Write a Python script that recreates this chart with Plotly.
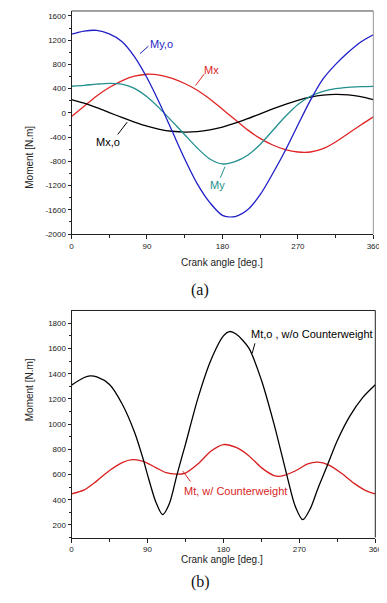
import plotly.graph_objects as go

# ---------------- data (a) ----------------
angle_a = [0, 15, 30, 45, 60, 75, 90, 105, 120, 135, 150, 165, 180, 195, 210,
           225, 240, 255, 270, 285, 300, 315, 330, 345, 360]
my_o = [1300, 1350, 1362, 1305, 1180, 930, 580, 160, -300, -760, -1170, -1480, -1690,
        -1710, -1600, -1350, -1000, -620, -200, 210, 560, 800, 1000, 1170, 1290]
mx = [-60, 110, 280, 420, 530, 605, 638, 625, 570, 485, 375, 230, 60, -110, -280,
      -420, -530, -605, -645, -645, -590, -480, -340, -200, -65]
mx_o = [220, 160, 86, 6, -75, -151, -218, -270, -303, -317, -309, -280, -233, -170, -96,
        -16, 65, 141, 208, 260, 293, 307, 299, 270, 220]
my = [440, 455, 475, 488, 475, 405, 265, 75, -140, -360, -580, -760, -842, -805, -700,
      -520, -290, -60, 140, 275, 355, 400, 422, 432, 437]

# ---------------- data (b) ----------------
angle_bo = [0, 15, 22, 30, 45, 60, 75, 85, 90, 100, 108, 116, 125, 135, 150, 165, 180,
            187, 195, 210, 225, 240, 255, 265, 274, 283, 292, 303, 315, 330, 345, 360]
mt_o = [1310, 1370, 1383, 1375, 1315, 1160, 930, 720, 600, 380, 282, 370, 600, 840, 1210,
        1505, 1700, 1735, 1715, 1605, 1350, 1000, 600, 350, 242, 330, 490, 670, 870, 1065,
        1210, 1312]
angle_bt = [0, 15, 30, 45, 60, 72, 85, 100, 112, 124, 135, 150, 165, 180, 195, 210, 225,
            240, 248, 265, 280, 292, 305, 320, 335, 350, 360]
mt = [446, 478, 550, 632, 695, 718, 705, 655, 615, 603, 612, 685, 785, 838, 815, 750, 655,
      592, 587, 628, 685, 698, 675, 610, 530, 468, 446]

x_tickvals = [0, 90, 180, 270, 360]
x_ticktext = ["0", "90", "180", "270", "360"]
ya_tickvals = [-2000, -1600, -1200, -800, -400, 0, 400, 800, 1200, 1600]
ya_ticktext = ["-2000", "-1600", "-1200", "-800", "-400", "0", "400", "800", "1200", "1600"]
yb_tickvals = [200, 400, 600, 800, 1000, 1200, 1400, 1600, 1800]
yb_ticktext = ["200", "400", "600", "800", "1000", "1200", "1400", "1600", "1800"]

W, H = 387, 603
FONT = "Liberation Sans, Arial, sans-serif"
BLUE = "#1f1fc8"
RED = "#e02424"
TEAL = "#238f8f"
BLACK = "#000000"
RED_B = "#d81e1e"

fig = go.Figure()
lw = 1.3
def ln(c):
    return dict(color=c, width=lw, shape="spline", smoothing=0.8)

fig.add_trace(go.Scatter(x=angle_a, y=mx, mode="lines", line=ln(RED), xaxis="x", yaxis="y"))
fig.add_trace(go.Scatter(x=angle_a, y=mx_o, mode="lines", line=ln(BLACK), xaxis="x", yaxis="y"))
fig.add_trace(go.Scatter(x=angle_a, y=my, mode="lines", line=ln(TEAL), xaxis="x", yaxis="y"))
fig.add_trace(go.Scatter(x=angle_a, y=my_o, mode="lines", line=ln(BLUE), xaxis="x", yaxis="y"))
fig.add_trace(go.Scatter(x=angle_bt, y=mt, mode="lines", line=ln(RED_B), xaxis="x2", yaxis="y2"))
fig.add_trace(go.Scatter(x=angle_bo, y=mt_o, mode="lines", line=ln(BLACK), xaxis="x2", yaxis="y2"))

def px_x(x0, x1):
    return [x0 / W, x1 / W]

def px_y(top, bottom):
    return [1 - bottom / H, 1 - top / H]

tickfont = dict(family=FONT, size=8, color="#222")
common_x = dict(range=[0, 360], tickmode="array", tickvals=x_tickvals, ticktext=x_ticktext,
                ticks="outside", ticklen=4, tickwidth=1, tickcolor="#222", showgrid=False,
                zeroline=False, showline=True, linecolor="#222", linewidth=1,
                tickfont=tickfont, fixedrange=True,
                minor=dict(tickvals=[45, 135, 225, 315], ticks="outside", ticklen=3, tickcolor="#222", showgrid=False))
common_y = dict(ticks="outside", ticklen=3, tickwidth=1, tickcolor="#222", showgrid=False,
                zeroline=False, showline=True, linecolor="#222", linewidth=1,
                tickfont=tickfont, fixedrange=True, tickmode="array")

fig.update_layout(
    width=W, height=H, margin=dict(l=0, r=0, t=0, b=0),
    paper_bgcolor="white", plot_bgcolor="white", showlegend=False,
    xaxis=dict(domain=px_x(63, 372), anchor="y", **common_x),
    yaxis=dict(domain=px_y(3, 228), anchor="x", range=[-2000, 1682],
               tickvals=ya_tickvals, ticktext=ya_ticktext,
               minor=dict(tickvals=[v + 200 for v in ya_tickvals[:-1]],
                          ticks="outside", ticklen=2, tickcolor="#222", showgrid=False),
               **common_y),
    xaxis2=dict(domain=px_x(63, 374), anchor="y2", **common_x),
    yaxis2=dict(domain=px_y(305, 534), anchor="x2", range=[100, 1902],
                tickvals=yb_tickvals, ticktext=yb_ticktext,
                minor=dict(tickvals=[v + 100 for v in yb_tickvals[:-1]] + [100],
                           ticks="outside", ticklen=2, tickcolor="#222", showgrid=False),
                **common_y),
)

# frame lines (top/right)
fig.add_shape(type="line", xref="x domain", yref="y domain", x0=0, x1=1, y0=1, y1=1, line=dict(color="#444", width=1))
fig.add_shape(type="line", xref="x domain", yref="y domain", x0=1, x1=1, y0=0, y1=1, line=dict(color="#999", width=1))
fig.add_shape(type="line", xref="x2 domain", yref="y2 domain", x0=0, x1=1, y0=1, y1=1, line=dict(color="#222", width=1))
fig.add_shape(type="line", xref="x2 domain", yref="y2 domain", x0=1, x1=1, y0=0, y1=1, line=dict(color="#222", width=1))

lab_font = 11
# curve labels (a)
labels_a = [("My,o", 107.2, 1140, BLUE), ("Mx", 167, 700, RED), ("My", 173.6, -1182, TEAL), ("Mx,o", 43.1, -479, BLACK)]
for t, x, y, c in labels_a:
    fig.add_annotation(text=t, x=x, y=y, xref="x", yref="y", showarrow=False,
                       font=dict(family=FONT, size=lab_font, color=c))
leaders_a = [(81.6, 977, 9, -8, BLUE), (148, 453, 9, -12, RED), (183, -888, -5, 12, TEAL), (66.4, -152, -10, 13, BLACK)]
for x, y, ax, ay, c in leaders_a:
    fig.add_annotation(text=" ", x=x, y=y, xref="x", yref="y", ax=ax, ay=ay, showarrow=True,
                       arrowhead=0, arrowwidth=1, arrowcolor=c, font=dict(size=1), borderpad=0, standoff=0)

# curve labels (b)
fig.add_annotation(text="Mt,o , w/o Counterweight", x=210.7, y=1719, xref="x2", yref="y2", xanchor="left",
                   showarrow=False, font=dict(family=FONT, size=lab_font, color=BLACK))
fig.add_annotation(text="Mt, w/ Counterweight", x=130.8, y=470, xref="x2", yref="y2", xanchor="left",
                   showarrow=False, font=dict(family=FONT, size=lab_font, color=RED_B))
for x, y, ax, ay, c in [(214.1, 1562, 3, -11, BLACK), (132, 627, 8, 11, RED_B)]:
    fig.add_annotation(text=" ", x=x, y=y, xref="x2", yref="y2", ax=ax, ay=ay, showarrow=True,
                       arrowhead=0, arrowwidth=1, arrowcolor=c, font=dict(size=1), borderpad=0, standoff=0)

# axis titles
title_font = dict(family=FONT, size=10, color="#222")
for yc in (257, 564):
    fig.add_annotation(text="Crank angle [deg.]", x=217 / W, y=1 - yc / H, xref="paper", yref="paper",
                       showarrow=False, font=title_font)
for yc in (117, 419):
    fig.add_annotation(text="Moment [N.m]", x=12 / W, y=1 - yc / H, xref="paper", yref="paper",
                       showarrow=False, textangle=-90, font=title_font)
for t, yc in (("(a)", 284), ("(b)", 590)):
    fig.add_annotation(text=t, x=195 / W, y=1 - yc / H, xref="paper", yref="paper", showarrow=False,
                       font=dict(family="Liberation Serif, Times New Roman, serif", size=16, color="#111"))

fig.write_html("out.html")
